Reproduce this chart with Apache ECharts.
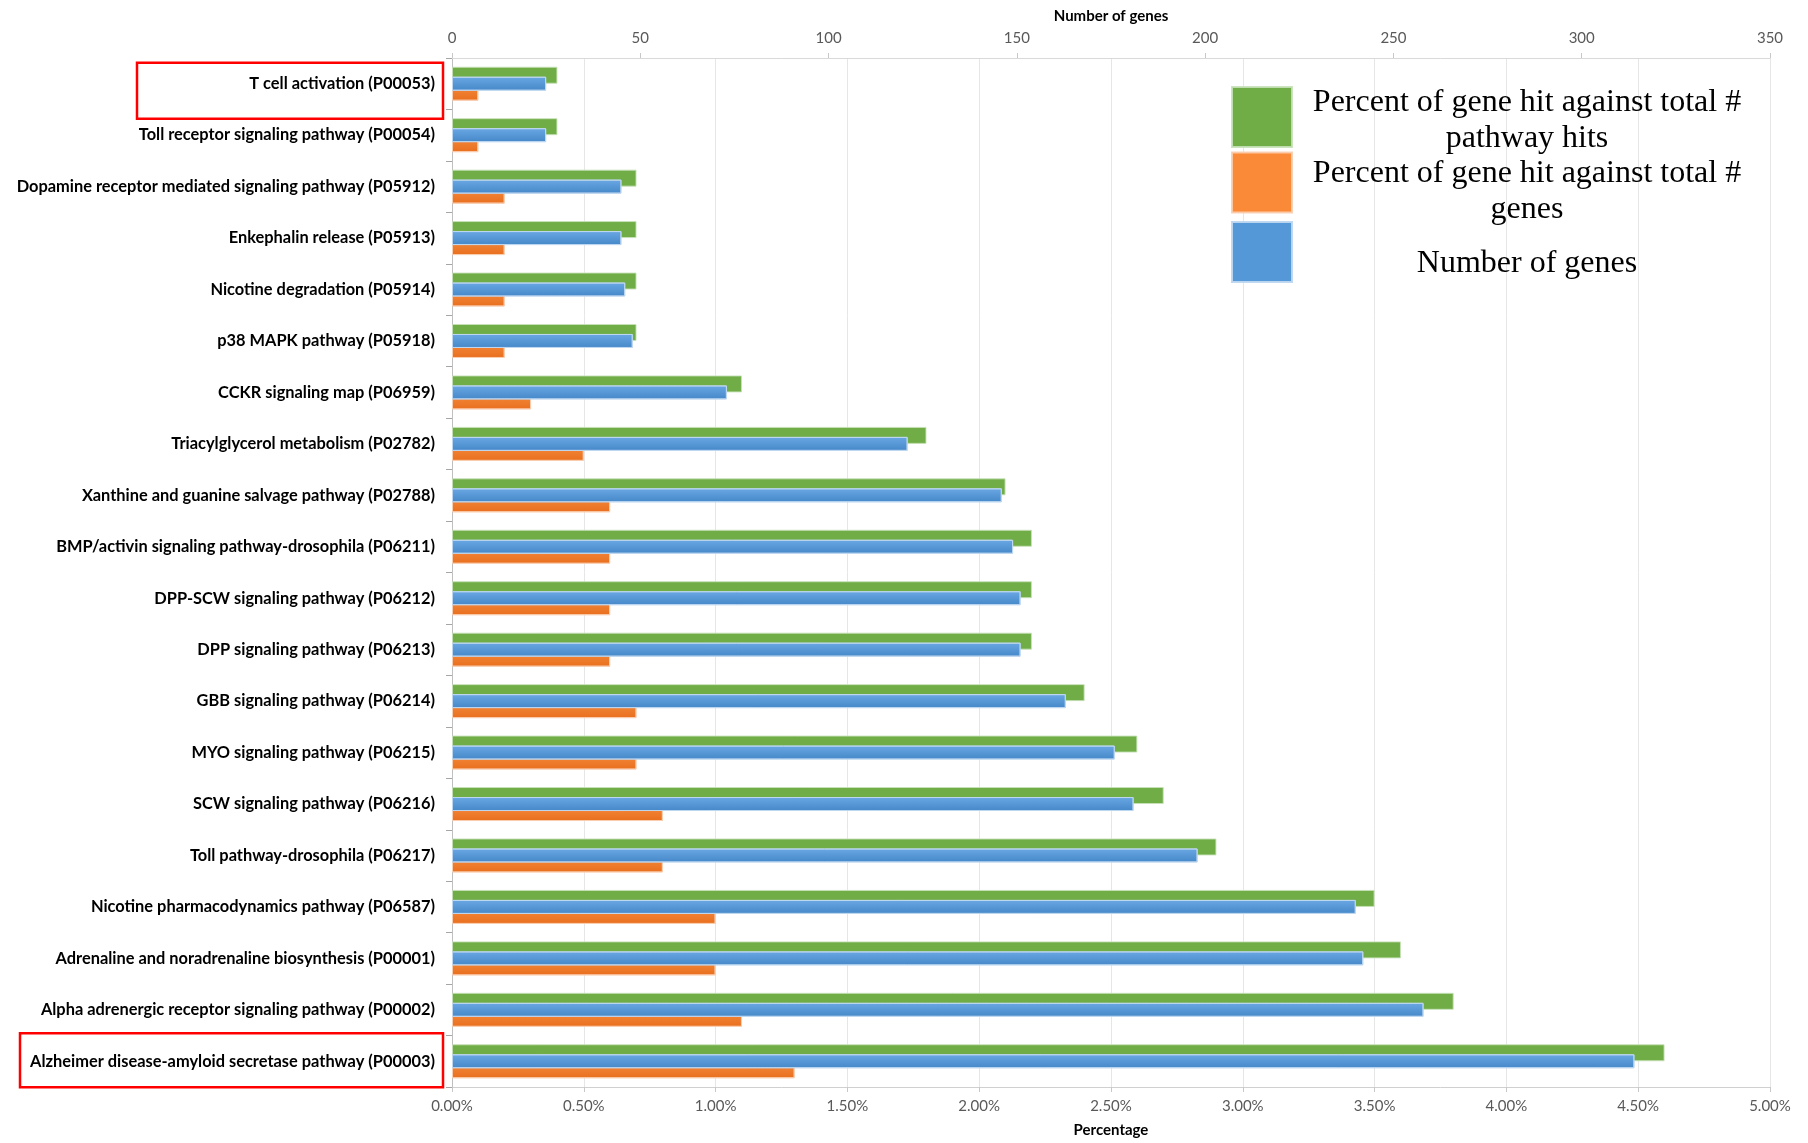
<!DOCTYPE html>
<html>
<head>
<meta charset="utf-8">
<script src="https://cdn.jsdelivr.net/npm/echarts@6/dist/echarts.min.js"></script>
<style>
  html, body { margin: 0; padding: 0; background: #ffffff; }
  #chart { width: 1808px; height: 1143px; }
</style>
</head>
<body>
<div id="chart"></div>
<script>
// Pathways, listed top to bottom
const pathways = [
  'T cell activation (P00053)',
  'Toll receptor signaling pathway (P00054)',
  'Dopamine receptor mediated signaling pathway (P05912)',
  'Enkephalin release (P05913)',
  'Nicotine degradation (P05914)',
  'p38 MAPK pathway (P05918)',
  'CCKR signaling map (P06959)',
  'Triacylglycerol metabolism (P02782)',
  'Xanthine and guanine salvage pathway (P02788)',
  'BMP/activin signaling pathway-drosophila (P06211)',
  'DPP-SCW signaling pathway (P06212)',
  'DPP signaling pathway (P06213)',
  'GBB signaling pathway (P06214)',
  'MYO signaling pathway (P06215)',
  'SCW signaling pathway (P06216)',
  'Toll pathway-drosophila (P06217)',
  'Nicotine pharmacodynamics pathway (P06587)',
  'Adrenaline and noradrenaline biosynthesis (P00001)',
  'Alpha adrenergic receptor signaling pathway (P00002)',
  'Alzheimer disease-amyloid secretase pathway (P00003)'
];

// Percent of gene hit against total # pathway hits (%)
const pctPathwayHits = [0.40, 0.40, 0.70, 0.70, 0.70, 0.70, 1.10, 1.80, 2.10, 2.20,
                        2.20, 2.20, 2.40, 2.60, 2.70, 2.90, 3.50, 3.60, 3.80, 4.60];

// Percent of gene hit against total # genes (%)
const pctTotalGenes = [0.10, 0.10, 0.20, 0.20, 0.20, 0.20, 0.30, 0.50, 0.60, 0.60,
                       0.60, 0.60, 0.70, 0.70, 0.80, 0.80, 1.00, 1.00, 1.10, 1.30];

// Number of genes
const geneCounts = [25, 25, 45, 45, 46, 48, 73, 121, 146, 149,
                    151, 151, 163, 176, 181, 198, 240, 242, 258, 314];

// Series names and their legend wording
const NAME_HITS = 'Percent of gene hit against total # pathway hits';
const NAME_GENES_PCT = 'Percent of gene hit against total # genes';
const NAME_COUNT = 'Number of genes';
const legendLines = {
  [NAME_HITS]: ['Percent of gene hit against total #', 'pathway hits'],
  [NAME_GENES_PCT]: ['Percent of gene hit against total #', 'genes'],
  [NAME_COUNT]: ['Number of genes']
};

// Axis ranges
const percentAxis = { min: 0, max: 5, interval: 0.5 };
const genesAxis = { min: 0, max: 350, interval: 50 };

// Pathways outlined in red
const outlined = [
  { name: pathways[0], x0: 137, x1: 443, above: 21, below: 35 },
  { name: pathways[19], x0: 20, x1: 443, above: 28, below: 26 }
];

const LABEL_FONT = 'Lato, "Open Sans", sans-serif';
const SERIF = '"Liberation Serif", "Times New Roman", serif';
const grad = (top, bottom) => new echarts.graphic.LinearGradient(0, 0, 0, 1, [
  { offset: 0, color: top }, { offset: 1, color: bottom }
]);

// One legend box per series, so each swatch/caption pair sits on its own
function legendBox(name, color, top, spacer) {
  return {
    orient: 'vertical',
    left: 1231,
    top: top,
    itemWidth: 60,
    itemHeight: 60,
    itemGap: 0,
    icon: 'rect',
    padding: 0,
    data: [{ name: name, itemStyle: { color: color } }],
    formatter: n => '{sp| }\n' + legendLines[n].map(l => '{c|' + l + '}').join('\n'),
    textStyle: {
      fontFamily: SERIF,
      fontSize: 32,
      color: '#000000',
      rich: {
        sp: { fontSize: 1, lineHeight: spacer },
        c: { fontFamily: SERIF, fontSize: 32, lineHeight: 36, width: 460, align: 'center', color: '#000000' }
      }
    }
  };
}

const chart = echarts.init(document.getElementById('chart'), null, { renderer: 'canvas' });

const axisNameStyle = { fontFamily: LABEL_FONT, fontWeight: 'bold', fontSize: 15, color: '#000000' };

const option = {
  animation: false,
  backgroundColor: '#ffffff',
  grid: { left: 452, right: 38, top: 58, bottom: 56, containLabel: false, outerBoundsMode: 'none' },
  legend: [
    legendBox(NAME_HITS, '#70ad47', 80.6, 6.2),
    legendBox(NAME_GENES_PCT, '#fb8a38', 146, 18.4),
    legendBox(NAME_COUNT, '#5598d8', 221, 24)
  ],
  xAxis: [
    {
      type: 'value',
      position: 'bottom',
      min: percentAxis.min,
      max: percentAxis.max,
      interval: percentAxis.interval,
      name: 'Percentage',
      nameLocation: 'middle',
      nameGap: 36,
      nameMoveOverlap: false,
      nameTextStyle: axisNameStyle,
      axisLine: { show: true, lineStyle: { color: '#d0d0d0', width: 1 } },
      axisTick: { show: true, length: 5, lineStyle: { color: '#c8c8c8' } },
      axisLabel: {
        margin: 12,
        fontFamily: LABEL_FONT,
        fontSize: 15,
        color: '#595959',
        formatter: v => v.toFixed(2) + '%'
      },
      splitLine: { show: true, lineStyle: { color: '#e6e6e6', width: 1 } }
    },
    {
      type: 'value',
      position: 'top',
      min: genesAxis.min,
      max: genesAxis.max,
      interval: genesAxis.interval,
      name: 'Number of genes',
      nameLocation: 'middle',
      nameGap: 34,
      nameMoveOverlap: false,
      nameTextStyle: axisNameStyle,
      axisLine: { show: true, lineStyle: { color: '#d9d9d9', width: 1 } },
      axisTick: { show: true, length: 5, lineStyle: { color: '#c8c8c8' } },
      axisLabel: { margin: 12, fontFamily: LABEL_FONT, fontSize: 15, color: '#595959' },
      splitLine: { show: false }
    }
  ],
  yAxis: [
    {
      type: 'category',
      data: pathways,
      inverse: true,
      position: 'left',
      axisLine: { show: true, lineStyle: { color: '#bfbfbf', width: 1 } },
      axisTick: { show: true, length: 6, alignWithLabel: false, lineStyle: { color: '#a6a6a6' } },
      axisLabel: {
        margin: 17,
        fontFamily: LABEL_FONT,
        fontWeight: 'bold',
        fontSize: 16.4,
        color: '#000000',
        interval: 0
      },
      splitLine: { show: false }
    },
    {
      type: 'category',
      data: pathways,
      inverse: true,
      position: 'left',
      show: false
    }
  ],
  series: [
    {
      name: NAME_HITS,
      type: 'bar',
      xAxisIndex: 0,
      yAxisIndex: 0,
      data: pctPathwayHits,
      barWidth: 17,
      barGap: '0%',
      itemStyle: { color: '#70ad47', borderColor: 'rgba(200,225,185,0.9)', borderWidth: 1 },
      z: 2
    },
    {
      name: NAME_GENES_PCT,
      type: 'bar',
      xAxisIndex: 0,
      yAxisIndex: 0,
      data: pctTotalGenes,
      barWidth: 17,
      barGap: '0%',
      itemStyle: { color: grad('#f68c40', '#e86f1e'), borderColor: 'rgba(250,205,175,0.9)', borderWidth: 1 },
      z: 2
    },
    {
      name: NAME_COUNT,
      type: 'bar',
      xAxisIndex: 1,
      yAxisIndex: 1,
      data: geneCounts,
      barWidth: 14,
      itemStyle: { color: grad('#6aa8e4', '#4587c8'), borderColor: 'rgba(190,215,240,0.95)', borderWidth: 1 },
      z: 3
    }
  ]
};

chart.setOption(option);

// Red outlines around the highlighted pathway labels
chart.setOption({
  graphic: outlined.map(o => {
    const yc = chart.convertToPixel({ yAxisIndex: 0 }, o.name);
    return {
      type: 'rect',
      shape: { x: o.x0, y: yc - o.above, width: o.x1 - o.x0, height: o.above + o.below },
      style: { fill: 'none', stroke: '#ff0000', lineWidth: 2.5 },
      z: 10
    };
  })
});
</script>
</body>
</html>
